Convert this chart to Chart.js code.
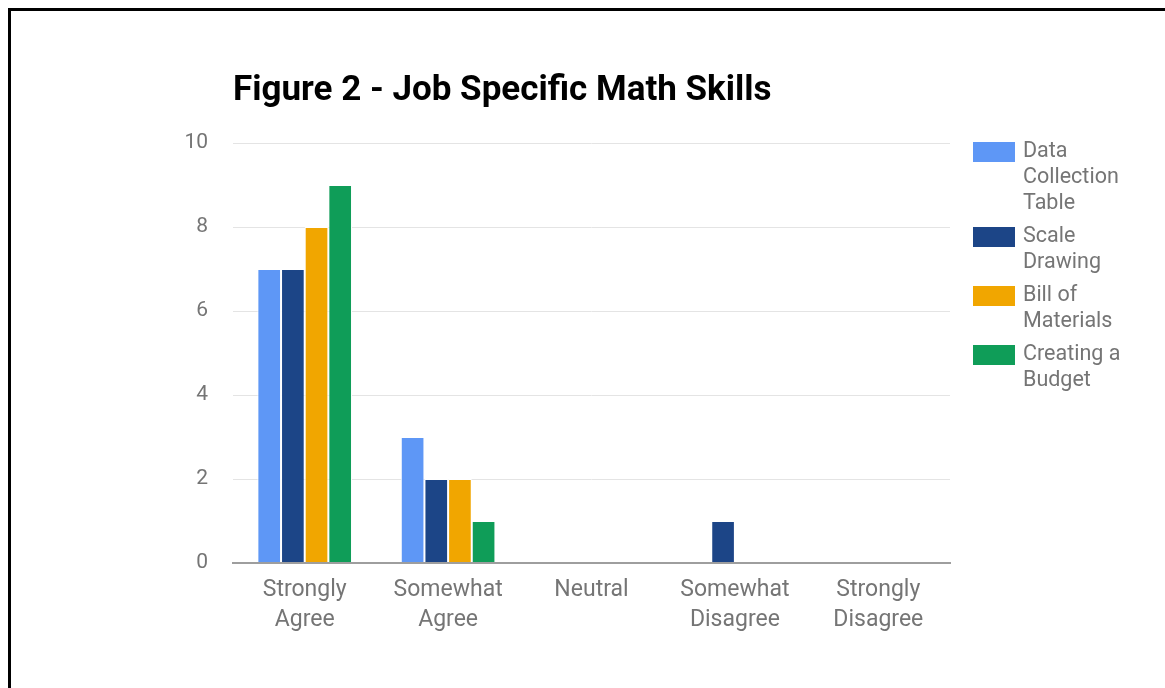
<!DOCTYPE html>
<html>
<head>
<meta charset="utf-8">
<script src="https://cdn.jsdelivr.net/npm/chart.js@4.4.1/dist/chart.umd.min.js"></script>
<style>
  html, body { margin: 0; padding: 0; background: #fff; overflow: hidden; }
  #frame { position: absolute; left: 8px; top: 8px; width: 1200px; height: 720px; border: 3px solid #000; }
  #wrap { position: absolute; left: 0; top: 0; width: 1165px; height: 688px; }
</style>
</head>
<body>
<div id="frame"></div>
<div id="wrap"><canvas id="skillsChart"></canvas></div>
<script>
// Figure 2 - Job Specific Math Skills
const categories = [['Strongly', 'Agree'], ['Somewhat', 'Agree'], 'Neutral', ['Somewhat', 'Disagree'], ['Strongly', 'Disagree']];
const seriesNames = ['Data Collection Table', 'Scale Drawing', 'Bill of Materials', 'Creating a Budget'];
const dataCollection = [7, 3, 0, 0, 0];
const scaleDrawing = [7, 2, 0, 1, 0];
const billOfMaterials = [8, 2, 0, 0, 0];
const creatingBudget = [9, 1, 0, 0, 0];
const yTicks = [0, 2, 4, 6, 8, 10];

const colors = ['#5e97f6', '#1c4587', '#f1a600', '#0f9d58'];
const textGrey = '#757575';

// legend on the right, with wrapped labels like the original
const sideLegend = {
    id: 'sideLegend',
    afterDraw(chart) {
        const ctx = chart.ctx;
        const x = chart.chartArea.right + 23;
        let y = chart.chartArea.top + 9;
        ctx.save();
        ctx.font = '21.5px Roboto';
        ctx.textBaseline = 'middle';
        chart.data.datasets.forEach(ds => {
            // wrap words to fit the legend column
            const words = ds.label.split(' ');
            const lines = [];
            let cur = '';
            words.forEach(w => {
                const test = cur ? cur + ' ' + w : w;
                if (cur && ctx.measureText(test).width > 115) {
                    lines.push(cur);
                    cur = w;
                } else {
                    cur = test;
                }
            });
            lines.push(cur);
            ctx.fillStyle = ds.backgroundColor;
            ctx.fillRect(x, y - 10, 42, 20);
            ctx.fillStyle = textGrey;
            lines.forEach((l, i) => ctx.fillText(l, x + 50, y + i * 26));
            y += lines.length * 26 + 7;
        });
        ctx.restore();
    }
};

const ctx = document.getElementById('skillsChart');
new Chart(ctx, {
    type: 'bar',
    data: {
        labels: categories,
        datasets: [dataCollection, scaleDrawing, billOfMaterials, creatingBudget].map((d, i) => ({
            label: seriesNames[i],
            data: d,
            backgroundColor: colors[i],
            borderColor: '#ffffff',
            borderWidth: 1,
            categoryPercentage: 0.66,
            barPercentage: 1.0
        }))
    },
    options: {
        responsive: true,
        maintainAspectRatio: false,
        animation: false,
        layout: { padding: { left: 173, right: 215, top: 60, bottom: 45 } },
        plugins: {
            legend: { display: false },
            tooltip: { enabled: false },
            title: {
                display: true,
                text: 'Figure 2 - Job Specific Math Skills',
                align: 'start',
                fullSize: false,
                color: '#000',
                font: { family: 'Roboto', size: 35, weight: 'bold', lineHeight: 1.2 },
                padding: { top: 10, bottom: 31 }
            }
        },
        scales: {
            x: {
                grid: { display: false },
                border: { color: '#9e9e9e', width: 2 },
                ticks: {
                    color: textGrey,
                    font: { family: 'Roboto', size: 23, lineHeight: 1.3 },
                    padding: 4,
                    maxRotation: 0
                },
                afterFit(scale) { scale.height = 80; }
            },
            y: {
                min: 0,
                max: 10,
                afterBuildTicks(scale) { scale.ticks = yTicks.map(v => ({ value: v })); },
                border: { display: false },
                grid: {
                    drawTicks: false,
                    color: c => (c.tick && c.tick.value === 0) ? '#9e9e9e' : '#e4e4e4',
                    lineWidth: c => (c.tick && c.tick.value === 0) ? 2 : 1
                },
                ticks: {
                    color: textGrey,
                    font: { family: 'Roboto', size: 21 },
                    padding: 25
                },
                afterFit(scale) { scale.width = 60; }
            }
        }
    },
    plugins: [sideLegend]
});
</script>
</body>
</html>
